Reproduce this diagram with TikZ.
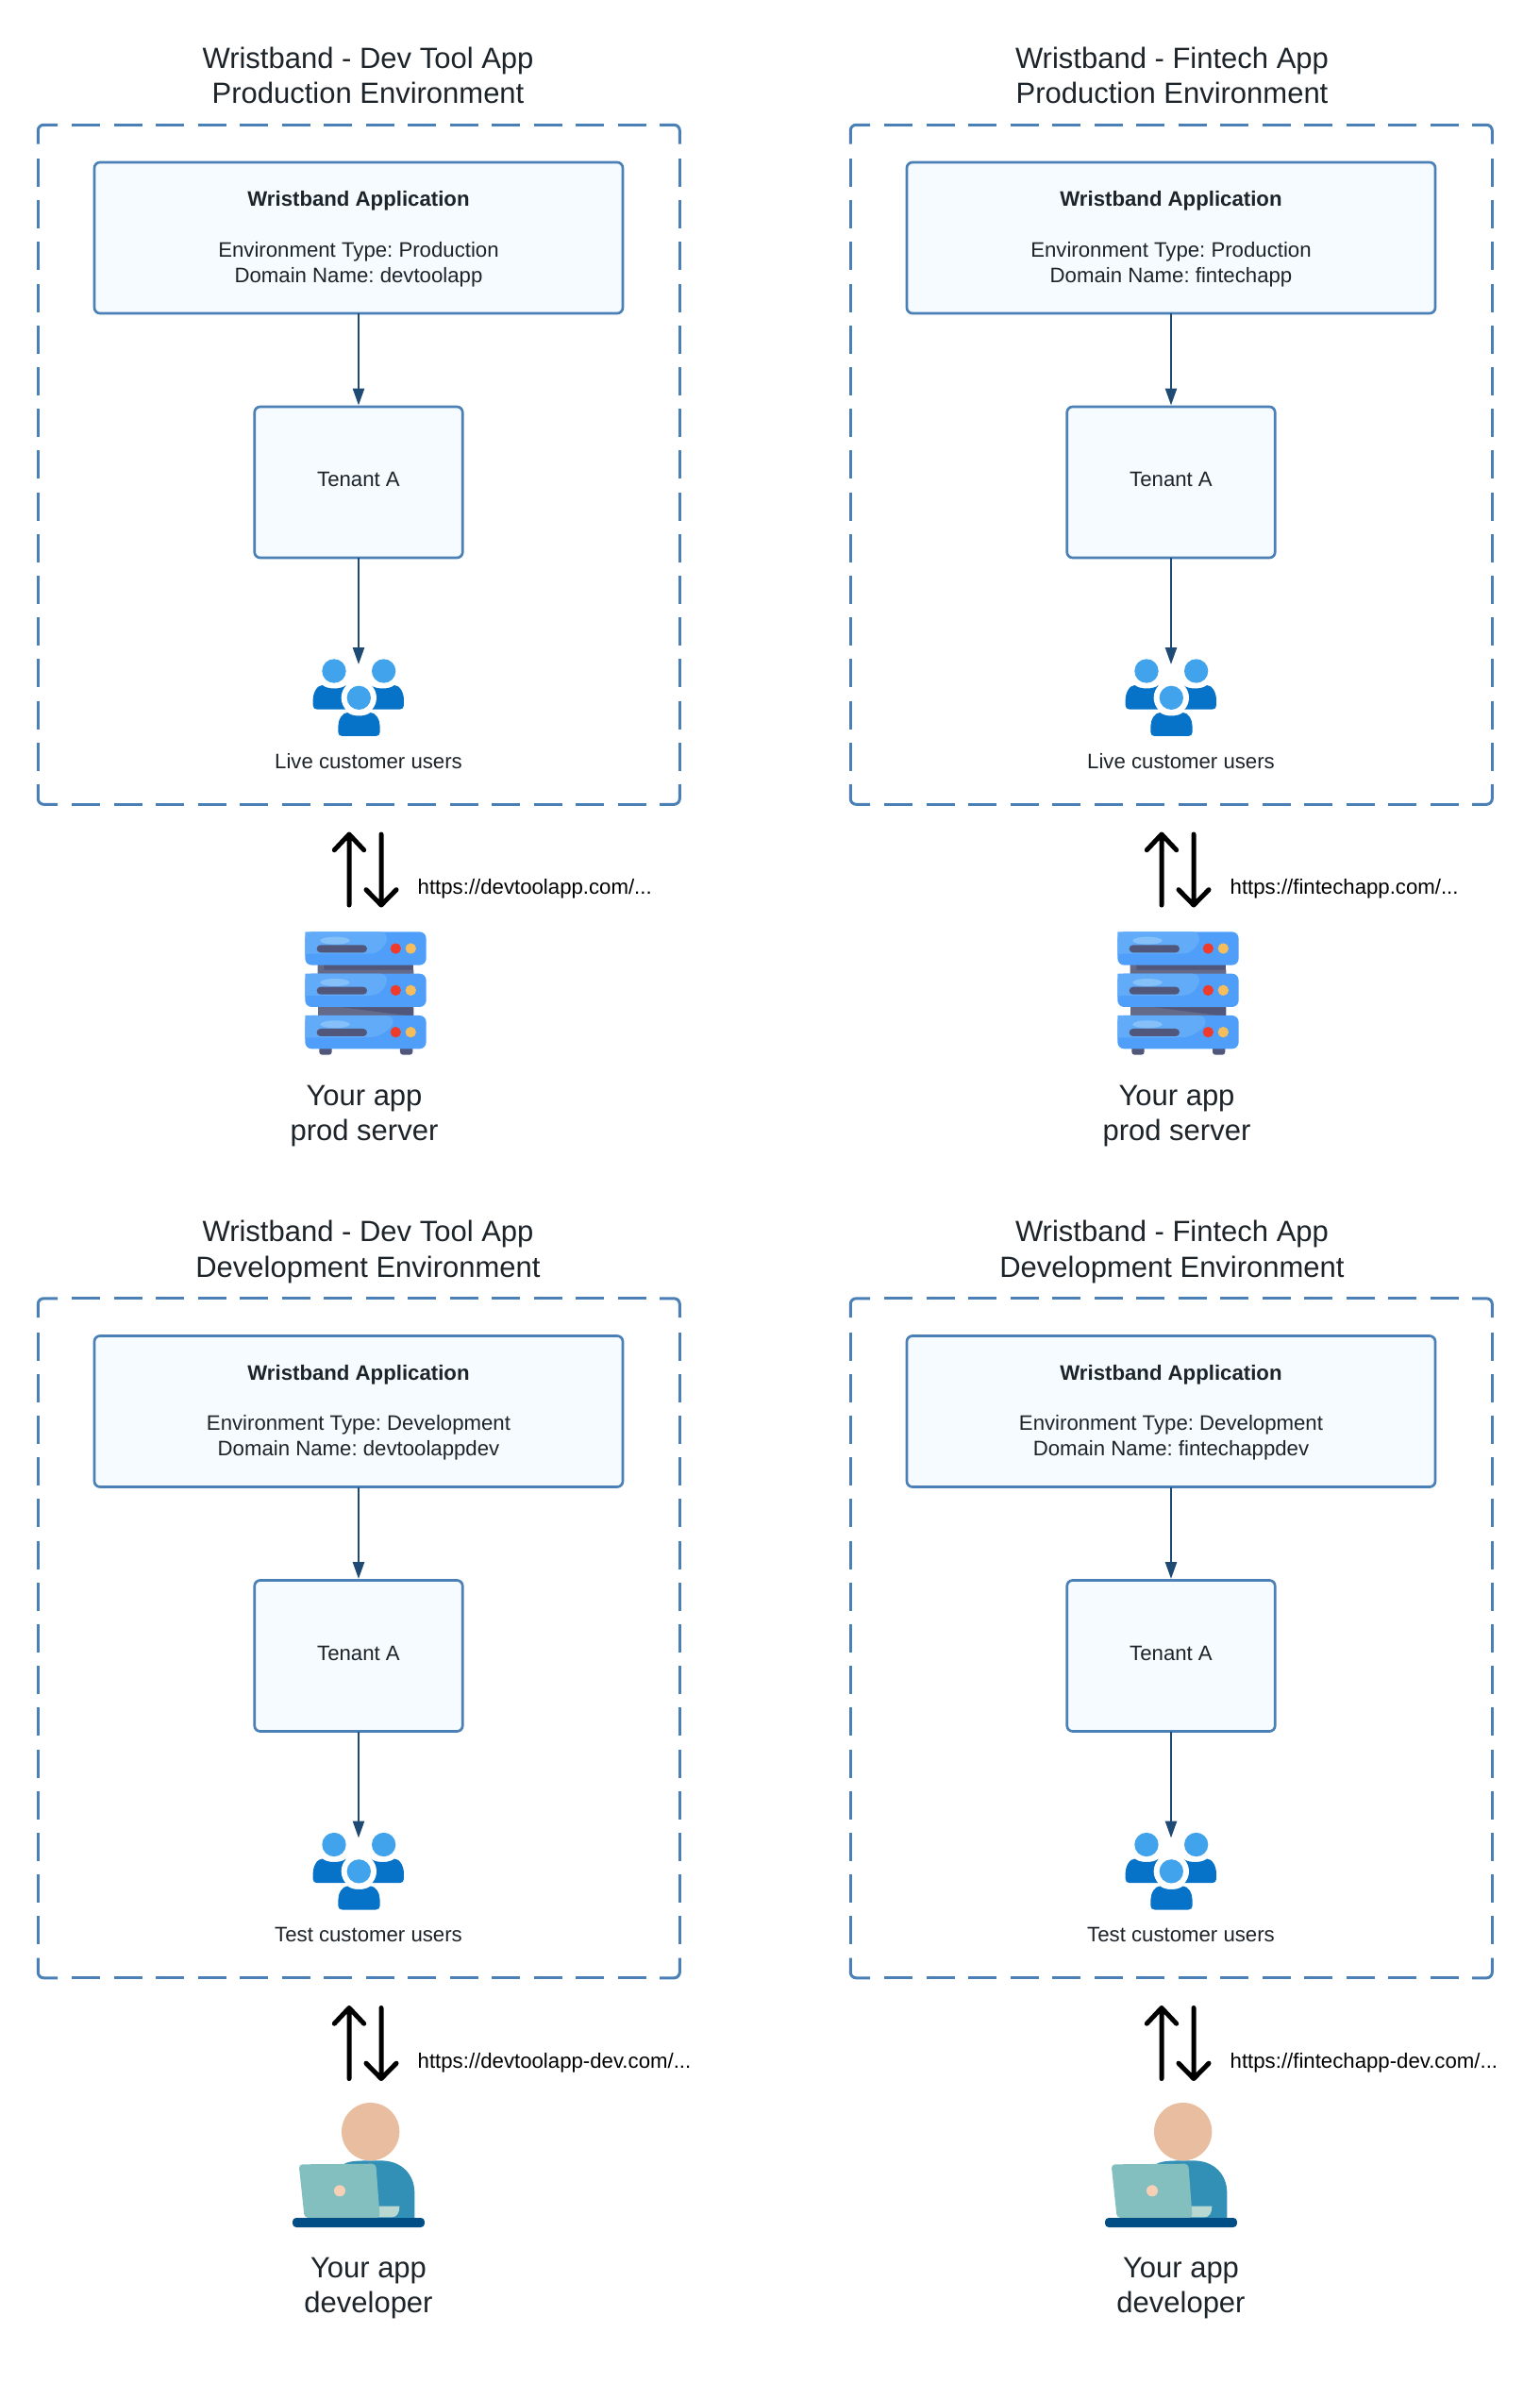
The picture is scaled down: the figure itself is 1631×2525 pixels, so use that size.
\documentclass[tikz,border=0pt]{standalone}
\usepackage{fontspec}
\setmainfont{Liberation Sans}
\usetikzlibrary{arrows.meta}
\definecolor{frameblue}{HTML}{4A80B6}
\definecolor{boxfill}{HTML}{F6FBFF}
\definecolor{flowblue}{HTML}{1F4A73}
\definecolor{inktext}{HTML}{1C2329}
\definecolor{userlight}{HTML}{41A3EC}
\definecolor{userdark}{HTML}{0673C8}
\definecolor{srvblue}{HTML}{4F9EFA}
\definecolor{srvlight}{HTML}{62ABF9}
\definecolor{srvhi}{HTML}{85C0F9}
\definecolor{srvdark}{HTML}{50577A}
\definecolor{srvmid}{HTML}{646A88}
\definecolor{srvred}{HTML}{EE3B2B}
\definecolor{srvorange}{HTML}{F6BD5C}
\definecolor{devbody}{HTML}{328FB5}
\definecolor{devhead}{HTML}{E9BD9F}
\definecolor{devlap}{HTML}{84BFBF}
\definecolor{devdot}{HTML}{F6CFB6}
\definecolor{devpale}{HTML}{B9D8D2}
\definecolor{devbase}{HTML}{004E85}
\tikzset{
  x=1pt,y=-1pt,
  bigtext/.style={font=\fontsize{31}{37.3}\selectfont,align=center,text=inktext,inner sep=0,outer sep=0},
  smalltext/.style={font=\fontsize{22.2}{26.7}\selectfont,align=center,text=inktext,inner sep=0,outer sep=0},
  linktext/.style={font=\fontsize{22.2}{26.7}\selectfont,text=black,anchor=west,inner sep=0,outer sep=0},
  framedashh/.style={draw=frameblue,line width=3pt,dash pattern=on 30pt off 14.5pt},
  framedashv/.style={draw=frameblue,line width=3pt,dash pattern=on 30pt off 14.2pt},
  framecorner/.style={draw=frameblue,line width=3pt,rounded corners=6pt},
  flatbox/.style={draw=frameblue,fill=boxfill,line width=2.7pt,rounded corners=6pt,inner sep=0,outer sep=0,align=center,text=inktext,font=\fontsize{22.2}{26.7}\selectfont},
  flow/.style={draw=flowblue,line width=2.6pt,-{Triangle[length=18pt,width=12pt]},shorten >=1.5pt},
  bigarrow/.style={draw=black,line width=5pt,line cap=round,line join=round},
}
\newcommand{\usersicon}{%
  \begin{scope}[shift={(280,660)},x=.3333pt,y=-.3333pt]
    \fill[userdark] (155,262) -- (155,245) .. controls (155,222) and (168,198) .. (185,198) .. controls (200,212) and (245,212) .. (260,198) -- (260,275) -- (168,275) .. controls (160,275) and (155,270) .. (155,262) -- cycle;
    \fill[userdark] (444,262) -- (444,245) .. controls (444,222) and (431,198) .. (414,198) .. controls (399,212) and (354,212) .. (339,198) -- (339,275) -- (431,275) .. controls (439,275) and (444,270) .. (444,262) -- cycle;
    \fill[white] (301,238) circle (56);
    \fill[userlight] (222,153) circle (38);
    \fill[userlight] (380,153) circle (38);
    \fill[userlight] (301,238) circle (38);
    \fill[userdark] (235,347) -- (235,330) .. controls (235,308) and (248,285) .. (265,285) .. controls (280,299) and (322,299) .. (338,285) .. controls (355,285) and (368,308) .. (368,330) -- (368,347) .. controls (368,355) and (363,360) .. (355,360) -- (248,360) .. controls (240,360) and (235,355) .. (235,347) -- cycle;
  \end{scope}}
\newcommand{\srvtier}[2]{%
  \begin{scope}[yshift=#1*-.3333pt]
    \fill[srvblue,rounded corners=7pt] (70,382) rectangle (455,488);
    \fill[srvlight,rounded corners=7pt] (70,470) .. controls (72,456) and (85,452) .. (100,452) -- (260,452) .. controls (310,450) and (#2,420) .. (#2,382) -- (92,382) .. controls (78,382) and (70,390) .. (70,404) -- cycle;
    \fill[srvhi] (165,410) ellipse (47 and 12);
    \fill[srvdark,rounded corners=4pt] (107,424) rectangle (267,448);
    \fill[srvred] (358,435) circle (17);
    \fill[srvorange] (406,435) circle (17);
  \end{scope}}
\newcommand{\servericon}{%
  \begin{scope}[shift={(300,860)},x=.3333pt,y=-.3333pt]
    \fill[srvdark,rounded corners=3pt] (115,745) rectangle (155,773);
    \fill[srvdark,rounded corners=3pt] (372,745) rectangle (412,773);
    \fill[srvdark] (110,485) rectangle (415,518);
    \fill[srvmid] (110,485) -- (130,485) -- (130,503) -- (415,503) -- (415,518) -- (110,518) -- cycle;
    \fill[srvmid] (110,618) rectangle (415,651);
    \fill[srvdark] (190,622) -- (415,622) -- (415,651) -- cycle;
    \srvtier{0}{330}
    \srvtier{133}{330}
    \srvtier{266}{350}
  \end{scope}}
\newcommand{\devicon}{%
  \begin{scope}[shift={(290,936)},x=.3333pt,y=-.3333pt]
    \fill[devbody] (225,338) .. controls (245,328) and (270,328) .. (340,328) .. controls (410,328) and (448,375) .. (448,430) -- (448,512) -- (225,512) -- cycle;
    \fill[devpale] (330,473) -- (400,473) .. controls (400,495) and (392,508) .. (375,508) -- (330,508) -- cycle;
    \fill[devlap,rounded corners=4pt] (80,340) -- (325,338) -- (338,510) -- (98,510) -- cycle;
    \fill[devdot] (210,424) circle (18);
    \fill[devhead] (308,236) circle (92);
    \fill[devbase,rounded corners=4pt] (60,510) rectangle (480,540);
  \end{scope}}
\newcommand{\titley}{80}
% #1 name, #2 dx, #3 dy, #4 title x (panel-relative), #5 title, #6 env, #7 domain, #8 users label, #9 link
\newcommand{\panel}[9]{%
  \begin{scope}[shift={(#2,#3)}]
    \node[bigtext] (#1-title) at (#4,\titley) {#5};
    \draw[framedashh] (76,132.3) -- (685,132.3);
    \draw[framedashh] (76,852.3) -- (685,852.3);
    \draw[framedashv] (40.3,168) -- (40.3,817);
    \draw[framedashv] (720.3,168) -- (720.3,817);
    \draw[framecorner] (40.3,152.5) -- (40.3,132.3) -- (61,132.3);
    \draw[framecorner] (699,132.3) -- (720.3,132.3) -- (720.3,152.5);
    \draw[framecorner] (40.3,831) -- (40.3,852.3) -- (61,852.3);
    \draw[framecorner] (699,852.3) -- (720.3,852.3) -- (720.3,831);
    \node[flatbox,minimum width=560pt,minimum height=160pt] (#1-app) at (380,252)
      {\begin{tabular}{@{}c@{}}\rule{0pt}{22pt}\textbf{Wristband Application}\\[26.7pt]#6\\#7\end{tabular}};
    \node[flatbox,minimum width=220.5pt,minimum height=160pt] (#1-tenant) at (380,511) {\raisebox{5.5pt}{Tenant A}};
    \coordinate (#1-in) at (380,705.5);
    \usersicon
    \node[smalltext] (#1-users) at (390.5,806.5) {#8};
    \draw[flow] (#1-app.south) -- (#1-tenant.north);
    \draw[flow] (#1-tenant.south) -- (#1-in);
    \coordinate (#1-upa) at (370,959);
    \coordinate (#1-upb) at (370,884);
    \coordinate (#1-dna) at (404,884);
    \coordinate (#1-dnb) at (404,959);
    \draw[bigarrow] (#1-upa) -- (#1-upb) (354.3,900.7) -- (#1-upb) -- (385.7,900.7);
    \draw[bigarrow] (#1-dna) -- (#1-dnb) (388,942.7) -- (#1-dnb) -- (420,942.7);
    \node[linktext] (#1-link) at (442.7,942) {#9};
  \end{scope}}
\begin{document}
\frenchspacing
\begin{tikzpicture}
\useasboundingbox (0,0) rectangle (1631,2525);
\panel{a}{0}{0}{390}{Wristband - Dev Tool App\\Production Environment}{Environment Type: Production}{Domain Name: devtoolapp}{Live customer users}{https://devtoolapp.com/...}
\panel{b}{861}{0}{381}{Wristband - Fintech App\\Production Environment}{Environment Type: Production}{Domain Name: fintechapp}{Live customer users}{https://fintechapp.com/...}
\renewcommand{\titley}{83}
\panel{c}{0}{1243.5}{390}{Wristband - Dev Tool App\\Development Environment}{Environment Type: Development}{Domain Name: devtoolappdev}{Test customer users}{https://devtoolapp-dev.com/...}
\panel{d}{861}{1243.5}{381}{Wristband - Fintech App\\Development Environment}{Environment Type: Development}{Domain Name: fintechappdev}{Test customer users}{https://fintechapp-dev.com/...}
\begin{scope}[shift={(0,0)}]\servericon\node[bigtext] (a-srv) at (386,1182.5) {Your app\\prod server};\end{scope}
\begin{scope}[shift={(861,0)}]\servericon\node[bigtext] (b-srv) at (386,1182.5) {Your app\\prod server};\end{scope}
\begin{scope}[shift={(0,1244)}]\devicon\node[bigtext] (c-dev) at (390.5,1180.5) {Your app\\developer};\end{scope}
\begin{scope}[shift={(861,1244)}]\devicon\node[bigtext] (d-dev) at (390.5,1180.5) {Your app\\developer};\end{scope}
\end{tikzpicture}
\end{document}
